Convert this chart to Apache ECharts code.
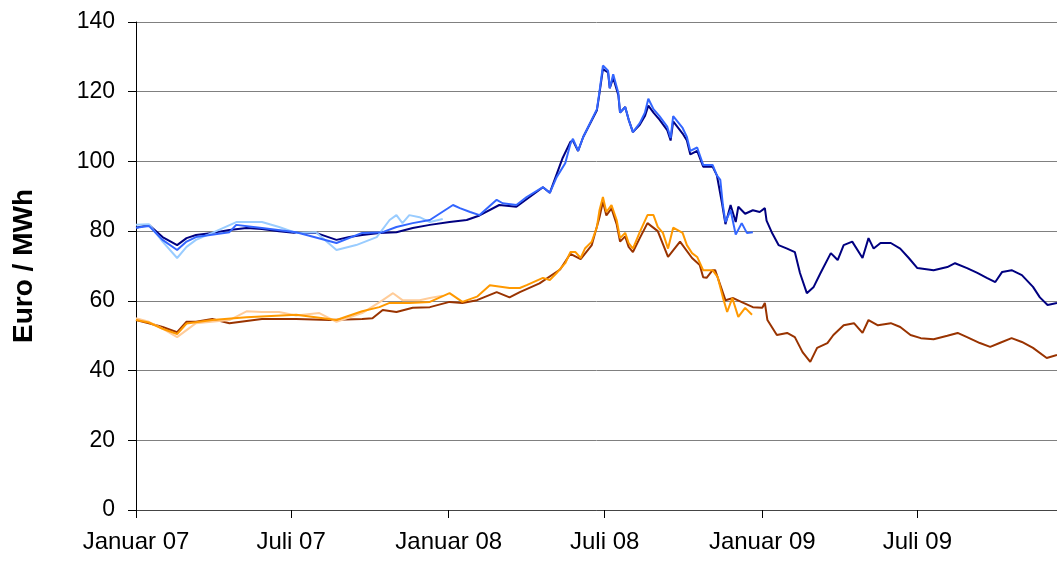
<!DOCTYPE html>
<html>
<head>
<meta charset="utf-8">
<script src="https://cdn.jsdelivr.net/npm/echarts@6/dist/echarts.min.js"></script>
<style>
    html, body { margin: 0; padding: 0; background: #fff; }
    #chart { width: 1057px; height: 561px; }
</style>
</head>
<body>
<div id="chart"></div>
<script>
// x-axis ticks
var xStart = '2007-01-01';
var xEnd = '2009-12-11';
var xTickDates = ['2007-01-01', '2007-07-01', '2008-01-01', '2008-07-01', '2009-01-01', '2009-07-01'];
var xTickLabels = ['Januar 07', 'Juli 07', 'Januar 08', 'Juli 08', 'Januar 09', 'Juli 09'];
var yTicks = [0, 20, 40, 60, 80, 100, 120, 140];

// dunkelblau (bis Dez 09)
var navyDates = ['2007-01-01','2007-01-16','2007-02-01','2007-02-18','2007-03-01','2007-03-12','2007-03-31','2007-04-20','2007-05-10','2007-05-28',
    '2007-06-17','2007-07-07','2007-07-30','2007-08-23','2007-09-07','2007-09-22','2007-10-12','2007-11-01','2007-11-20','2007-12-10',
    '2008-01-02','2008-01-22','2008-02-06','2008-02-29','2008-03-20','2008-04-20','2008-04-28','2008-05-13','2008-05-22','2008-05-25',
    '2008-05-31','2008-06-06','2008-06-22','2008-06-25','2008-06-29','2008-07-05','2008-07-07','2008-07-11','2008-07-17','2008-07-19',
    '2008-07-25','2008-07-29','2008-08-03','2008-08-11','2008-08-17','2008-08-21','2008-08-27','2008-09-03','2008-09-12','2008-09-16',
    '2008-09-19','2008-09-30','2008-10-05','2008-10-09','2008-10-17','2008-10-24','2008-11-04','2008-11-09','2008-11-15','2008-11-19',
    '2008-11-25','2008-12-01','2008-12-04','2008-12-12','2008-12-21','2008-12-29','2009-01-04','2009-01-06','2009-01-12','2009-01-20',
    '2009-01-30','2009-02-08','2009-02-14','2009-02-22','2009-03-02','2009-03-10','2009-03-22','2009-03-30','2009-04-06','2009-04-16',
    '2009-04-28','2009-05-05','2009-05-11','2009-05-19','2009-05-31','2009-06-11','2009-06-21','2009-07-01','2009-07-20','2009-08-05',
    '2009-08-14','2009-08-28','2009-09-09','2009-09-20','2009-09-30','2009-10-08','2009-10-19','2009-10-31','2009-11-13','2009-11-21',
    '2009-11-30','2009-12-11'];
var navyValues = [81, 81.8, 78.3, 76, 78, 78.9, 79.5, 80.3, 80.9, 80.6,
    80, 79.5, 79.5, 77.5, 78.3, 78.9, 79.5, 79.7, 80.9, 81.8,
    82.6, 83.2, 84.5, 87.5, 87, 92.6, 91, 101, 105.6, 106,
    103, 107, 114.7, 119.6, 126.5, 125.5, 121, 124, 119, 114,
    115.6, 112, 108.4, 110.5, 113, 116, 114, 112, 109, 106,
    111.5, 108, 106, 102, 103, 98.5, 98.5, 96, 88, 82,
    87.5, 82.6, 87, 85, 86, 85.5, 86.6, 83, 79.7, 76,
    75, 74, 68, 62.2, 64, 68, 73.7, 71.7, 76, 77,
    72.3, 78, 75, 76.6, 76.6, 75, 72.3, 69.4, 68.8, 69.7,
    70.8, 69.4, 68, 66.6, 65.4, 68.3, 68.8, 67.4, 64, 61,
    58.8, 59.4];

// mittelblau (bis Dez 08)
var blueDates = ['2007-01-01','2007-01-16','2007-02-01','2007-02-18','2007-03-01','2007-03-12','2007-04-20','2007-04-28','2007-05-28','2007-07-07',
    '2007-08-23','2007-09-22','2007-10-16','2007-11-01','2007-11-20','2007-12-10','2008-01-06','2008-01-14','2008-01-26','2008-02-06',
    '2008-02-26','2008-03-04','2008-03-20','2008-04-01','2008-04-20','2008-04-28','2008-05-06','2008-05-16','2008-05-22','2008-05-25',
    '2008-05-31','2008-06-06','2008-06-22','2008-06-25','2008-06-29','2008-07-05','2008-07-07','2008-07-11','2008-07-17','2008-07-19',
    '2008-07-25','2008-07-29','2008-08-03','2008-08-11','2008-08-17','2008-08-21','2008-08-27','2008-09-03','2008-09-12','2008-09-16',
    '2008-09-19','2008-09-30','2008-10-05','2008-10-09','2008-10-17','2008-10-24','2008-11-04','2008-11-09','2008-11-13','2008-11-16',
    '2008-11-19','2008-11-25','2008-12-01','2008-12-08','2008-12-14','2008-12-21'];
var blueValues = [81, 81.5, 77.5, 74.6, 77, 78.3, 79.7, 81.8, 80.9, 79.7,
    76.6, 79.5, 79.7, 81.2, 82.3, 83.2, 87.5, 86.6, 85.5, 84.6,
    89, 88, 87.5, 89.8, 92.6, 91, 95.5, 99.5, 105, 106.5,
    103, 107, 115, 120, 127.5, 126, 121, 125, 119.6, 114,
    115.6, 112, 108.4, 111, 114, 118, 115, 113, 110, 106.7,
    113, 109.6, 107, 103, 104, 99, 99, 96, 94.7, 87.5,
    82.6, 86, 79, 82.3, 79.5, 79.7];

// hellblau (bis Dez 07)
var lightBlueDates = ['2007-01-01','2007-01-16','2007-02-01','2007-02-18','2007-03-01','2007-03-12','2007-03-31','2007-04-28','2007-05-28','2007-06-17',
    '2007-07-07','2007-07-30','2007-08-23','2007-09-15','2007-10-09','2007-10-24','2007-11-01','2007-11-08','2007-11-16','2007-11-28',
    '2007-12-10','2007-12-25'];
var lightBlueValues = [81.8, 82, 77, 72.3, 75.5, 77.5, 79.5, 82.6, 82.6, 81.2,
    79.5, 79.7, 74.6, 76, 78.3, 83.2, 84.6, 82.3, 84.6, 84,
    82.6, 83.5];

// braun (bis Dez 09)
var brownDates = ['2007-01-01','2007-01-16','2007-02-01','2007-02-18','2007-03-01','2007-03-12','2007-03-31','2007-04-20','2007-05-28','2007-07-07',
    '2007-08-15','2007-09-22','2007-10-04','2007-10-16','2007-11-01','2007-11-20','2007-12-10','2008-01-02','2008-01-17','2008-02-03',
    '2008-02-26','2008-03-12','2008-03-24','2008-04-16','2008-05-10','2008-05-22','2008-06-03','2008-06-16','2008-06-25','2008-06-29',
    '2008-07-03','2008-07-09','2008-07-15','2008-07-19','2008-07-25','2008-07-29','2008-08-03','2008-08-11','2008-08-20','2008-09-01',
    '2008-09-13','2008-09-27','2008-10-11','2008-10-20','2008-10-24','2008-10-28','2008-11-04','2008-11-07','2008-11-19','2008-11-28',
    '2008-12-10','2008-12-21','2009-01-01','2009-01-04','2009-01-07','2009-01-18','2009-01-30','2009-02-08','2009-02-17','2009-02-26',
    '2009-03-06','2009-03-18','2009-03-25','2009-04-06','2009-04-18','2009-04-28','2009-05-05','2009-05-16','2009-05-31','2009-06-11',
    '2009-06-23','2009-07-05','2009-07-20','2009-08-05','2009-08-17','2009-08-28','2009-09-12','2009-09-24','2009-10-05','2009-10-19',
    '2009-10-31','2009-11-13','2009-11-29','2009-12-11'];
var brownValues = [54.5, 53.6, 52.5, 51, 54, 54, 54.8, 53.6, 54.8, 54.8,
    54.5, 54.8, 55, 57.4, 56.8, 58, 58.2, 59.7, 59.4, 60.2,
    62.5, 61, 62.5, 65, 69, 73.5, 72, 76, 84, 88.5,
    84.5, 86.5, 82, 77, 78.5, 75.5, 74, 78, 82.3, 80,
    72.6, 77, 72.3, 70.3, 66.8, 66.6, 68.8, 68.8, 60.2, 60.8,
    59.4, 58.2, 58, 59.4, 54.5, 50.2, 50.8, 49.6, 45.3, 42.5,
    46.5, 47.9, 50.2, 53, 53.6, 50.8, 54.5, 53, 53.6, 52.5,
    50.2, 49.3, 49, 50, 50.8, 49.6, 47.9, 46.8, 47.9, 49.3,
    48.2, 46.5, 43.6, 44.5];

// orange (bis Dez 08)
var orangeDates = ['2007-01-01','2007-01-16','2007-02-01','2007-02-18','2007-03-01','2007-03-31','2007-05-10','2007-07-07','2007-08-23','2007-09-22',
    '2007-10-12','2007-10-24','2007-11-16','2007-12-10','2008-01-02','2008-01-17','2008-02-03','2008-02-18','2008-03-12','2008-03-24',
    '2008-04-01','2008-04-20','2008-04-28','2008-05-06','2008-05-16','2008-05-22','2008-05-28','2008-06-03','2008-06-08','2008-06-16',
    '2008-06-22','2008-06-25','2008-06-29','2008-07-03','2008-07-09','2008-07-15','2008-07-19','2008-07-25','2008-07-29','2008-08-03',
    '2008-08-11','2008-08-20','2008-08-27','2008-09-01','2008-09-07','2008-09-13','2008-09-19','2008-09-30','2008-10-05','2008-10-11',
    '2008-10-17','2008-10-24','2008-11-04','2008-11-10','2008-11-16','2008-11-21','2008-11-27','2008-12-04','2008-12-12','2008-12-20'];
var orangeValues = [54.5, 53.8, 52, 50.5, 53.5, 54.5, 55.3, 56, 54.5, 57,
    58.2, 59.4, 59.4, 59.7, 62.2, 59.7, 61.2, 64.5, 63.7, 63.7,
    64.5, 66.6, 66, 68, 70.8, 74, 74, 72.3, 75, 77,
    81.2, 86, 89.8, 85.5, 87.5, 83.2, 78, 79.5, 76.6, 75,
    79.7, 84.6, 84.6, 81.2, 79.5, 75, 81, 79.5, 76, 73.7,
    72.6, 68.8, 68.8, 66.8, 61, 56.8, 60.8, 55.4, 58, 56];

// hellorange (bis Dez 07)
var lightOrangeDates = ['2007-01-01','2007-01-16','2007-02-01','2007-02-18','2007-03-12','2007-04-20','2007-05-10','2007-05-28','2007-06-17','2007-07-07',
    '2007-08-03','2007-08-23','2007-09-22','2007-10-16','2007-10-28','2007-11-08','2007-11-28','2007-12-10','2007-12-25'];
var lightOrangeValues = [55, 54, 52, 49.6, 53.6, 54.5, 57, 56.8, 56.8, 55.8,
    56.5, 54, 56.5, 60.2, 62.2, 60.2, 60.2, 60.8, 61.5];

// Tage seit xStart
function toDay(s) {
    var p = s.split('-');
    var q = xStart.split('-');
    return Math.round((Date.UTC(+p[0], +p[1] - 1, +p[2]) - Date.UTC(+q[0], +q[1] - 1, +q[2])) / 86400000);
}

function pairs(dates, values) {
    var out = [];
    for (var i = 0; i < dates.length; i++) {
        out.push([toDay(dates[i]), values[i]]);
    }
    return out;
}

var xTickDays = xTickDates.map(toDay);

function makeLine(name, color, dates, values) {
    return {
        name: name,
        type: 'line',
        data: pairs(dates, values),
        symbol: 'none',
        smooth: false,
        lineStyle: { color: color, width: 2 },
        itemStyle: { color: color }
    };
}

var chart = echarts.init(document.getElementById('chart'));
var option = {
    animation: false,
    textStyle: { fontFamily: 'Liberation Sans, Arial, sans-serif' },
    grid: {
        left: 136,
        right: 0,
        top: 22,
        bottom: 51
    },
    xAxis: {
        type: 'value',
        min: 0,
        max: toDay(xEnd),
        axisLine: { lineStyle: { color: '#444', width: 1 } },
        axisTick: {
            show: true,
            length: 8,
            customValues: xTickDays,
            lineStyle: { color: '#000' }
        },
        axisLabel: {
            customValues: xTickDays,
            color: '#000',
            fontSize: 24,
            margin: 20,
            formatter: function(val) {
                var idx = xTickDays.indexOf(Math.round(val));
                return idx >= 0 ? xTickLabels[idx] : '';
            }
        },
        splitLine: { show: false }
    },
    yAxis: {
        type: 'value',
        min: yTicks[0],
        max: yTicks[yTicks.length - 1],
        interval: 20,
        name: 'Euro / MWh',
        nameLocation: 'middle',
        nameGap: 98,
        nameTextStyle: {
            color: '#000',
            fontSize: 28,
            fontWeight: 'bold'
        },
        axisLine: { show: true, lineStyle: { color: '#000', width: 1 } },
        axisTick: { show: true, length: 8, lineStyle: { color: '#000' } },
        axisLabel: { color: '#000', fontSize: 23, margin: 21 },
        splitLine: { show: true, lineStyle: { color: '#808080', width: 1 } }
    },
    series: [
        makeLine('Base Cal-10', '#993300', brownDates, brownValues),
        makeLine('Base Cal-08', '#FFCC99', lightOrangeDates, lightOrangeValues),
        makeLine('Base Cal-09', '#FF9900', orangeDates, orangeValues),
        makeLine('Peak Cal-10', '#000080', navyDates, navyValues),
        makeLine('Peak Cal-08', '#99CCFF', lightBlueDates, lightBlueValues),
        makeLine('Peak Cal-09', '#3366FF', blueDates, blueValues)
    ]
};
chart.setOption(option);
window.addEventListener('resize', function() {
    chart.resize();
});
</script>
</body>
</html>
